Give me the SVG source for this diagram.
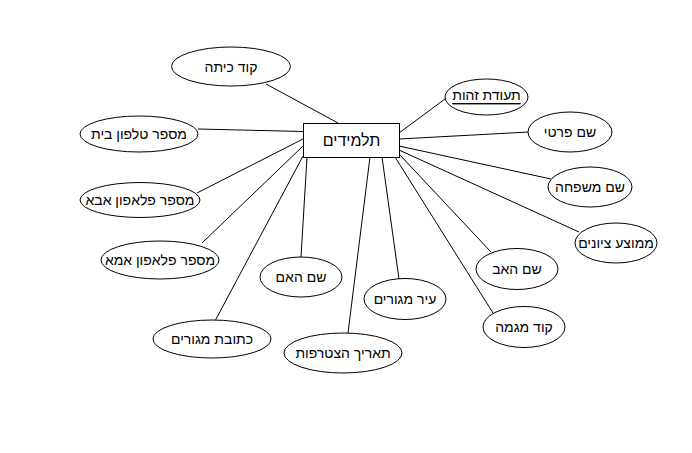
<svg xmlns="http://www.w3.org/2000/svg" width="692" height="453" viewBox="0 0 692 453">
<style>
.n ellipse, .n rect { fill: #fff; stroke: #000; stroke-width: 1; }
text { font-family: "Liberation Sans", Arial, sans-serif; font-size: 14px; fill: #000; text-anchor: middle; dominant-baseline: central; }
.big { font-size: 16px; }
.pk { text-decoration: underline; }
#edges line { stroke: #000; stroke-width: 1; }
</style>
<rect width="692" height="453" fill="#fff"/>
<g id="edges">
  <line x1="338" y1="123" x2="266" y2="84"/>
  <line x1="303" y1="131.5" x2="198" y2="129"/>
  <line x1="303" y1="139" x2="197" y2="193"/>
  <line x1="303" y1="146" x2="202" y2="243"/>
  <line x1="303" y1="156" x2="215" y2="321"/>
  <line x1="307" y1="157" x2="301" y2="257"/>
  <line x1="370" y1="157" x2="348" y2="333"/>
  <line x1="382" y1="157" x2="399" y2="279"/>
  <line x1="395" y1="157" x2="493" y2="313"/>
  <line x1="399" y1="154" x2="491" y2="252"/>
  <line x1="399" y1="133" x2="445" y2="99"/>
  <line x1="399" y1="139" x2="529" y2="132"/>
  <line x1="399" y1="146" x2="551" y2="179"/>
  <line x1="399" y1="150" x2="579" y2="232"/>
</g>
<g id="n0" class="n"><rect x="303.5" y="123.5" width="96" height="34"/><text class="big" x="351.5" y="140.5">תלמידים</text></g>
<g id="n1" class="n"><ellipse cx="231" cy="66.5" rx="59.5" ry="19.5"/><text x="231" y="66.5">קוד כיתה</text></g>
<g id="n2" class="n"><ellipse cx="139" cy="134" rx="59" ry="18"/><text x="139" y="134">מספר טלפון בית</text></g>
<g id="n3" class="n"><ellipse cx="140" cy="200" rx="60" ry="17.5"/><text x="140" y="200">מספר פלאפון אבא</text></g>
<g id="n4" class="n"><ellipse cx="160" cy="260" rx="59" ry="19"/><text x="160" y="260">מספר פלאפון אמא</text></g>
<g id="n5" class="n"><ellipse cx="212" cy="339" rx="59" ry="19"/><text x="212" y="339">כתובת מגורים</text></g>
<g id="n6" class="n"><ellipse cx="301" cy="277" rx="41" ry="20"/><text x="301" y="277">שם האם</text></g>
<g id="n7" class="n"><ellipse cx="343" cy="353" rx="59" ry="20"/><text x="343" y="353">תאריך הצטרפות</text></g>
<g id="n8" class="n"><ellipse cx="405" cy="299" rx="41" ry="20.5"/><text x="405" y="299">עיר מגורים</text></g>
<g id="n9" class="n"><ellipse cx="517" cy="269" rx="41" ry="20.5"/><text x="517" y="269">שם האב</text></g>
<g id="n10" class="n"><ellipse cx="524" cy="327" rx="41" ry="20.5"/><text x="524" y="327">קוד מגמה</text></g>
<g id="n11" class="n"><ellipse cx="486.5" cy="97" rx="41.5" ry="18"/><text class="pk" x="486.5" y="95">תעודת זהות</text></g>
<g id="n12" class="n"><ellipse cx="570" cy="132" rx="42" ry="20"/><text x="570" y="132">שם פרטי</text></g>
<g id="n13" class="n"><ellipse cx="590" cy="187" rx="42" ry="20"/><text x="590" y="187">שם משפחה</text></g>
<g id="n14" class="n"><ellipse cx="616" cy="243" rx="41" ry="20"/><text x="616" y="243">ממוצע ציונים</text></g>
</svg>
